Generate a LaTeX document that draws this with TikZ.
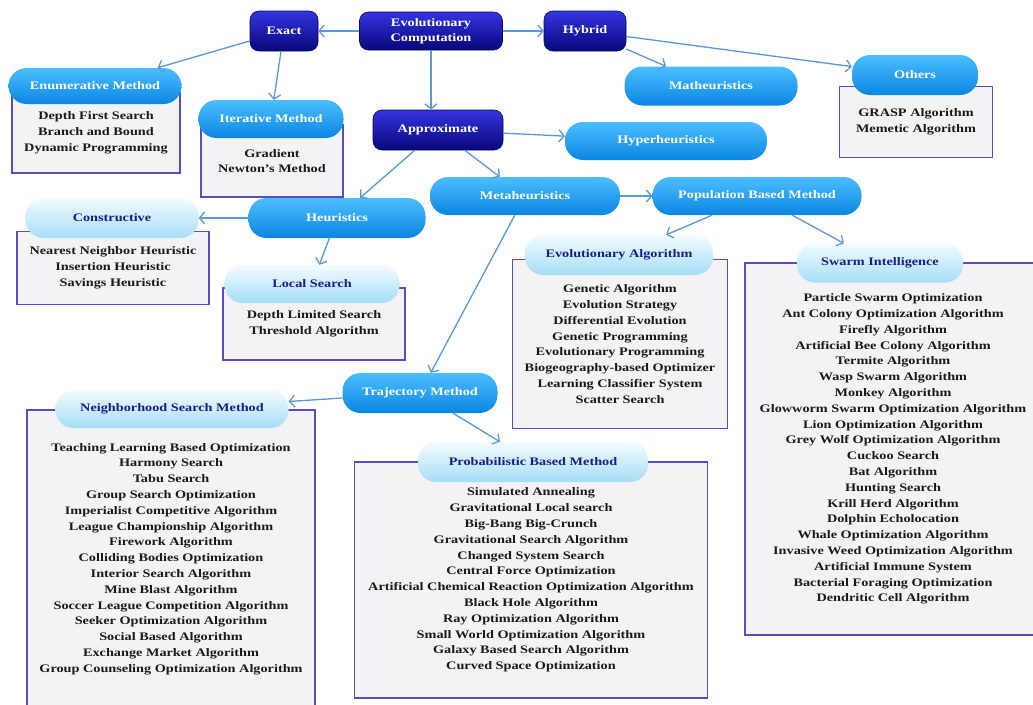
\documentclass[tikz,border=0pt]{standalone}
\usepackage{fontspec}
\setmainfont{Liberation Serif}[FakeStretch=1.24]
\usetikzlibrary{arrows.meta}
\definecolor{darktop}{HTML}{3434E0}
\definecolor{darkbot}{HTML}{07077C}
\definecolor{darkline}{HTML}{050560}
\definecolor{midtop}{HTML}{4CBEFF}
\definecolor{midbot}{HTML}{0A86E2}
\definecolor{lighttop}{HTML}{F2FCFF}
\definecolor{lightbot}{HTML}{A6DDF7}
\definecolor{lighttext}{HTML}{1C1C8C}
\definecolor{boxline}{HTML}{5A4CC6}
\definecolor{boxfill}{HTML}{F3F3F5}
\definecolor{listtext}{HTML}{1A1A1A}
\definecolor{linkblue}{HTML}{5A96D8}
\tikzset{
    darkbox/.style={rounded corners=9pt, top color=darktop, bottom color=darkbot, draw=darkline, line width=0.6pt, text=white},
    midpill/.style={rounded corners=18pt, top color=midtop, bottom color=midbot, text=white},
    lightpill/.style={rounded corners=18pt, top color=lighttop, bottom color=lightbot, text=lighttext},
    listbox/.style={draw=boxline, line width=1.6pt, fill=boxfill, text=listtext},
    link/.style={draw=linkblue, line width=1.3pt, -{Straight Barb[length=5pt,width=12pt]}},
}

\begin{document}
\begin{tikzpicture}[x=1pt,y=-1pt,
    every node/.style={font=\fontsize{11.5}{15.8}\selectfont\bfseries, align=center, inner sep=0pt}]
    \clip (0,0) rectangle (1033,704); % page size

    % top level
    \node[darkbox, minimum width=143pt, minimum height=38pt] (ec) at (431,31) {Evolutionary\\[-1pt]Computation};
    \node[darkbox, minimum width=68pt, minimum height=40pt] (exact) at (284,31) {Exact};
    \node[darkbox, minimum width=82pt, minimum height=40pt] (hybrid) at (585,31) {Hybrid};
    \node[darkbox, minimum width=130pt, minimum height=40pt] (approx) at (438,130) {Approximate};

    % exact branch
    \node[listbox, minimum width=168pt, minimum height=80pt] (enumlist) at (96,133) {Depth First Search\\Branch and Bound\\Dynamic Programming};
    \node[midpill, minimum width=173pt, minimum height=36pt] (enum) at (95,86) {Enumerative Method};
    \node[listbox, minimum width=142pt, minimum height=72pt] (iterlist) at (272,161) {Gradient\\Newton's Method};
    \node[midpill, minimum width=145pt, minimum height=38pt] (iter) at (271,119) {Iterative Method};

    % hybrid branch
    \node[midpill, minimum width=173pt, minimum height=39pt] (mathh) at (711,86) {Matheuristics};
    \node[listbox, minimum width=153pt, minimum height=71pt] (otherlist) at (916,122) {GRASP Algorithm\\Memetic Algorithm};
    \node[midpill, minimum width=126pt, minimum height=40pt] (others) at (915,75) {Others};

    % approximate branch
    \node[midpill, minimum width=202pt, minimum height=38pt] (hyper) at (666,141) {Hyperheuristics};
    \node[midpill, minimum width=190pt, minimum height=38pt] (meta) at (525,196) {Metaheuristics};
    \node[midpill, minimum width=209pt, minimum height=38pt] (popul) at (757,196) {Population Based Method};
    \node[midpill, minimum width=177pt, minimum height=40pt] (heur) at (337,218) {Heuristics};

    \node[listbox, minimum width=192pt, minimum height=73pt] (constrlist) at (113,268) {Nearest Neighbor Heuristic\\Insertion Heuristic\\Savings Heuristic};
    \node[lightpill, minimum width=173pt, minimum height=40pt] (constr) at (112,218) {Constructive};
    \node[listbox, minimum width=182pt, minimum height=72pt] (locallist) at (314,324) {Depth Limited Search\\Threshold Algorithm};
    \node[lightpill, minimum width=175pt, minimum height=38pt] (local) at (312,284) {Local Search};

    \node[listbox, minimum width=215pt, minimum height=169pt] (evolist) at (620,344) {Genetic Algorithm\\Evolution Strategy\\Differential Evolution\\Genetic Programming\\Evolutionary Programming\\Biogeography-based Optimizer\\Learning Classifier System\\Scatter Search};
    \node[lightpill, minimum width=188pt, minimum height=40pt] (evo) at (619,255) {Evolutionary Algorithm};

    \node[listbox, minimum width=296pt, minimum height=372pt] (swarmlist) at (893,449) {Particle Swarm Optimization\\Ant Colony Optimization Algorithm\\Firefly Algorithm\\Artificial Bee Colony Algorithm\\Termite Algorithm\\Wasp Swarm Algorithm\\Monkey Algorithm\\Glowworm Swarm Optimization Algorithm\\Lion Optimization Algorithm\\Grey Wolf Optimization Algorithm\\Cuckoo Search\\Bat Algorithm\\Hunting Search\\Krill Herd Algorithm\\Dolphin Echolocation\\Whale Optimization Algorithm\\Invasive Weed Optimization Algorithm\\Artificial Immune System\\Bacterial Foraging Optimization\\Dendritic Cell Algorithm};
    \node[lightpill, minimum width=166pt, minimum height=39pt] (swarm) at (880,263) {Swarm Intelligence};

    \node[midpill, minimum width=155pt, minimum height=40pt] (traj) at (420,393) {Trajectory Method};

    \node[listbox, minimum width=288pt, minimum height=298pt] (neighlist) at (171,559) {Teaching Learning Based Optimization\\Harmony Search\\Tabu Search\\Group Search Optimization\\Imperialist Competitive Algorithm\\League Championship Algorithm\\Firework Algorithm\\Colliding Bodies Optimization\\Interior Search Algorithm\\Mine Blast Algorithm\\Soccer League Competition Algorithm\\Seeker Optimization Algorithm\\Social Based Algorithm\\Exchange Market Algorithm\\Group Counseling Optimization Algorithm};
    \node[lightpill, minimum width=233pt, minimum height=38pt] (neigh) at (172,409) {Neighborhood Search Method};

    \node[listbox, minimum width=353pt, minimum height=236pt] (problist) at (531,580) {Simulated Annealing\\Gravitational Local search\\Big-Bang Big-Crunch\\Gravitational Search Algorithm\\Changed System Search\\Central Force Optimization\\Artificial Chemical Reaction Optimization Algorithm\\Black Hole Algorithm\\Ray Optimization Algorithm\\Small World Optimization Algorithm\\Galaxy Based Search Algorithm\\Curved Space Optimization};
    \node[lightpill, minimum width=230pt, minimum height=40pt] (prob) at (533,462) {Probabilistic Based Method};

    % connectors
    \draw[link] (ec) -- (exact);
    \draw[link] (ec) -- (hybrid);
    \draw[link] (ec.south) -- (ec.south |- approx.north);
    \draw[link] (exact) -- (enum);
    \draw[link] (exact) -- (iter);
    \draw[link] (hybrid) -- (mathh);
    \draw[link] (hybrid) -- (others);
    \draw[link] (approx) -- (hyper);
    \draw[link] (approx) -- (heur);
    \draw[link] (approx) -- (meta);
    \draw[link] (heur) -- (constr);
    \draw[link] (heur) -- (local);
    \draw[link] (meta) -- (popul);
    \draw[link] (meta) -- (traj);
    \draw[link] (popul) -- (evo);
    \draw[link] (popul) -- (swarm);
    \draw[link] (traj) -- (neigh);
    \draw[link] (traj) -- (prob);
\end{tikzpicture}
\end{document}
